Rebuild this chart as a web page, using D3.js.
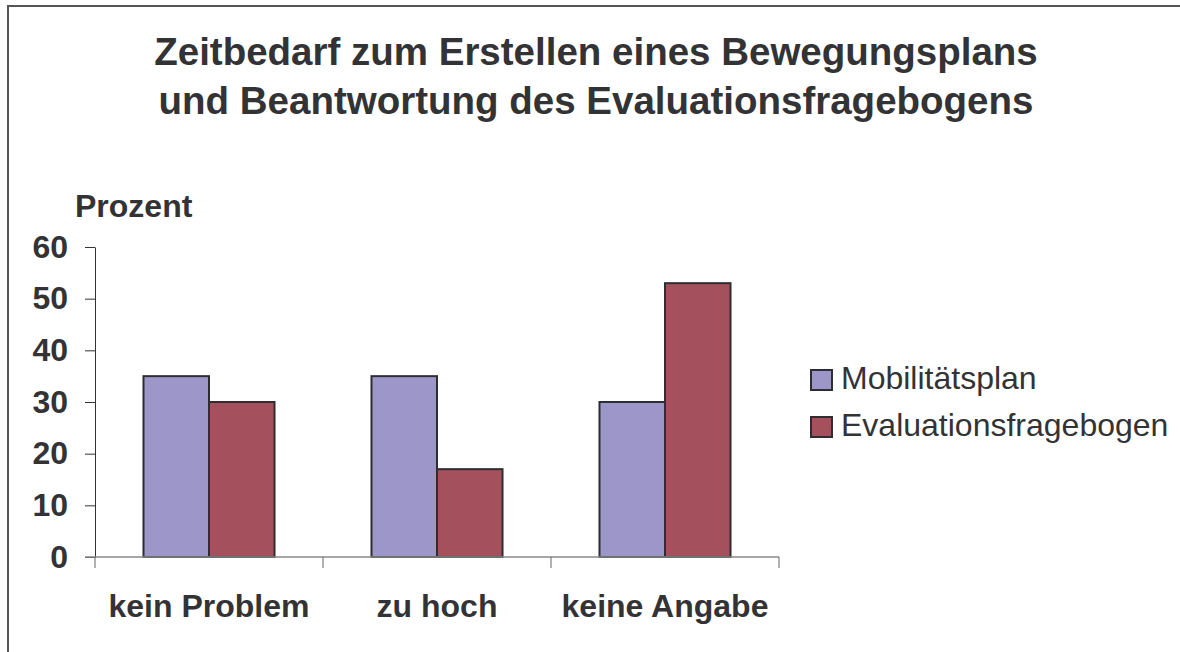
<!DOCTYPE html>
<html>
<head>
<meta charset="utf-8">
<script src="https://cdn.jsdelivr.net/npm/d3@7"></script>
<style>
  html, body { margin: 0; padding: 0; background: #fff; }
  svg { display: block; font-family: "Liberation Sans", Arial, sans-serif; }
</style>
</head>
<body>
<div id="chart"></div>
<script>
const titleLines = ["Zeitbedarf zum Erstellen eines Bewegungsplans", "und Beantwortung des Evaluationsfragebogens"];
const categories = ["kein Problem", "zu hoch", "keine Angabe"];
const seriesNames = ["Mobilitätsplan", "Evaluationsfragebogen"];
const mobilitaetsplan = [35, 35, 30];
const evaluationsfragebogen = [30, 17, 53];
const yTicks = [0, 10, 20, 30, 40, 50, 60];
const colors = ["#9d96c8", "#a5515d"];

const width = 1180, height = 652;
const textColor = "#333336";

const rows = categories.map((c, i) => ({ category: c, values: [mobilitaetsplan[i], evaluationsfragebogen[i]] }));

const svg = d3.select("#chart").append("svg")
  .attr("width", width)
  .attr("height", height);

// outer frame (only top and left edges visible in the picture)
svg.append("rect")
  .attr("x", 8).attr("y", 6)
  .attr("width", width + 20).attr("height", height + 20)
  .attr("fill", "none")
  .attr("stroke", "#555")
  .attr("stroke-width", 2);

// title
svg.append("g")
  .selectAll("text")
  .data(titleLines)
  .join("text")
    .attr("x", 596)
    .attr("y", (d, i) => 65 + i * 49)
    .attr("text-anchor", "middle")
    .attr("font-size", 38.5)
    .attr("font-weight", "bold")
    .attr("fill", textColor)
    .text(d => d);

const x0 = d3.scaleBand()
  .domain(categories)
  .range([95, 779])
  .padding(0);

const x1 = d3.scaleBand()
  .domain(seriesNames)
  .range([0, x0.bandwidth()])
  .paddingInner(0)
  .paddingOuter(0.74);

const y = d3.scaleLinear()
  .domain([0, 60])
  .range([557, 247]);

// y axis
const yAxis = svg.append("g")
  .attr("transform", "translate(95,0)")
  .call(d3.axisLeft(y).tickValues(yTicks).tickSize(10).tickPadding(17).tickSizeOuter(0));
yAxis.select(".domain").attr("stroke", "#333").attr("stroke-width", 1);
yAxis.selectAll(".tick line").attr("stroke", "#333");
yAxis.selectAll(".tick text")
  .attr("font-size", 32)
  .attr("font-weight", "bold")
  .attr("fill", textColor)
  .attr("font-family", "Liberation Sans, Arial, sans-serif");

svg.append("text")
  .attr("x", 75)
  .attr("y", 217)
  .attr("font-size", 32)
  .attr("font-weight", "bold")
  .attr("fill", textColor)
  .text("Prozent");

// bars
const groups = svg.append("g")
  .selectAll("g")
  .data(rows)
  .join("g")
    .attr("transform", d => `translate(${x0(d.category)},0)`);

groups.selectAll("rect")
  .data(d => d.values.map((v, i) => ({ name: seriesNames[i], value: v, i })))
  .join("rect")
    .attr("x", d => x1(d.name))
    .attr("y", d => y(d.value))
    .attr("width", x1.bandwidth())
    .attr("height", d => y(0) - y(d.value))
    .attr("fill", d => colors[d.i])
    .attr("stroke", "#2e2e32")
    .attr("stroke-width", 2);

// x axis
const xAxis = svg.append("g")
  .attr("transform", `translate(0,${y(0)})`);
xAxis.append("line")
  .attr("x1", 85).attr("x2", 779)
  .attr("y1", 0).attr("y2", 0)
  .attr("stroke", "#888")
  .attr("stroke-width", 1.5);
const boundaries = categories.map(c => x0(c)).concat([x0(categories[categories.length - 1]) + x0.bandwidth()]);
xAxis.selectAll("line.tick")
  .data(boundaries)
  .join("line")
    .attr("class", "tick")
    .attr("x1", d => d).attr("x2", d => d)
    .attr("y1", 0).attr("y2", 11)
    .attr("stroke", "#666");
xAxis.selectAll("text")
  .data(categories)
  .join("text")
    .attr("x", d => x0(d) + x0.bandwidth() / 2)
    .attr("y", 60)
    .attr("text-anchor", "middle")
    .attr("font-size", 32)
    .attr("font-weight", "bold")
    .attr("fill", textColor)
    .text(d => d);

// legend
const legend = svg.append("g")
  .selectAll("g")
  .data(seriesNames)
  .join("g")
    .attr("transform", (d, i) => `translate(811,${370 + i * 47})`);
legend.append("rect")
  .attr("width", 21).attr("height", 20)
  .attr("fill", (d, i) => colors[i])
  .attr("stroke", "#2e2e32")
  .attr("stroke-width", 2);
legend.append("text")
  .attr("x", 30)
  .attr("y", 19)
  .attr("font-size", 32)
  .attr("fill", textColor)
  .text(d => d);
</script>
</body>
</html>
